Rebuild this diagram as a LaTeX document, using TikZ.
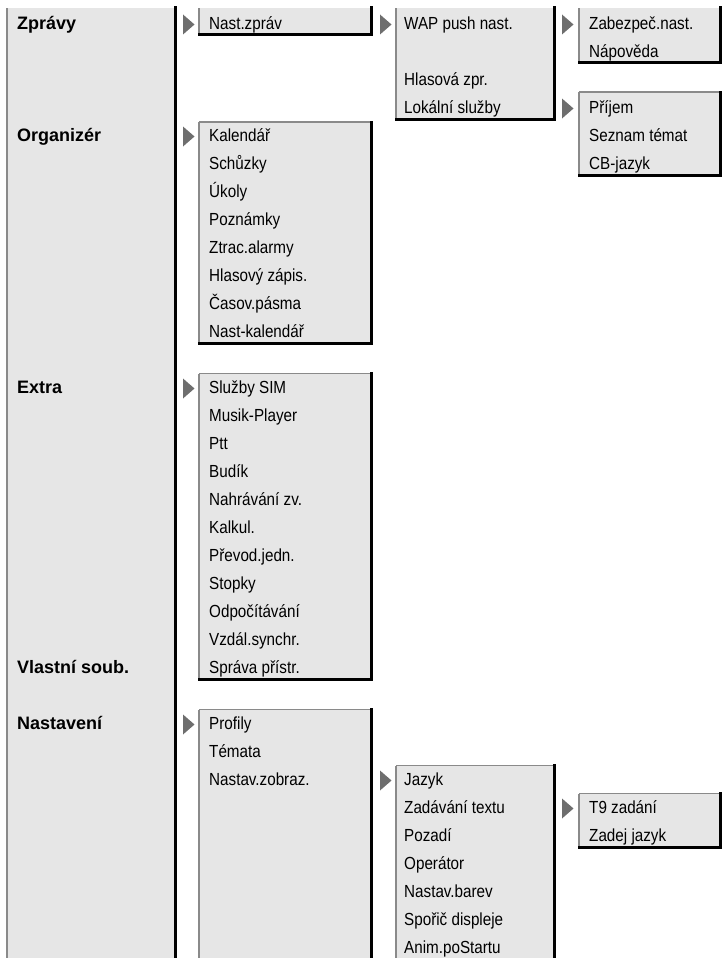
\documentclass[tikz,border=0pt]{standalone}
\usepackage{fontspec}
\newfontfamily\menufont[FakeStretch=0.87]{Liberation Sans}
\newfontfamily\headfont{Liberation Sans}
\definecolor{panelfill}{HTML}{E6E6E6}
\definecolor{edgegray}{HTML}{8A8A8A}
\definecolor{arrowgray}{HTML}{6E6E6E}
\tikzset{
  panelnode/.style={rectangle, fill=panelfill, draw=none, inner sep=0pt, outer sep=0pt, anchor=north west},
  lightedge/.style={draw=edgegray, line width=1.5pt},
  darkedge/.style={draw=black, line width=3pt, line join=miter, line cap=rect},
  item/.style={anchor=base west, inner sep=0pt, font=\menufont\fontsize{17.5}{20}\selectfont},
  head/.style={anchor=base west, inner sep=0pt, font=\headfont\bfseries\fontsize{18}{20}\selectfont},
  pointerfill/.style={fill=arrowgray, draw=none},
}
% panel: name, x1, y1, x2, y2
\newcommand\menupanel[5]{%
  \node[panelnode, minimum width={#4-#2}, minimum height={#5-#3}] (#1) at (#2,#3) {};
  \draw[lightedge] (#1.south west) -- (#1.north west);
}
\newcommand\closedbottom[1]{\draw[darkedge] (#1.south west) -- (#1.south east) -- (#1.north east);}
\newcommand\openbottom[1]{\draw[darkedge] (#1.south east) -- (#1.north east);}
\newcommand\topedge[1]{\draw[lightedge] (#1.north west) -- (#1.north east);}
% items: prefix, x, first row, list
\newcommand\menuitems[4]{%
  \foreach \t [count=\i from 0] in {#4} {
    \pgfmathsetmacro\bl{29.5+28*(#3+\i)}
    \node[item] (#1-\i) at (#2,\bl) {\t};
  }
}
% pointer: x, row
\newcommand\pointer[2]{%
  \pgfmathsetmacro\bl{29.5+28*#2}
  \fill[pointerfill] (#1,\bl-15) -- (#1+11.5,\bl-5) -- (#1,\bl+5) -- cycle;
}
\begin{document}
\begin{tikzpicture}[x=1pt,y=-1pt]
\useasboundingbox (0,0) rectangle (722,958);

% column 0
\menupanel{main}{7}{8}{175.5}{958}
\openbottom{main}
\node[head] (hzpr) at (17,29.5) {Zprávy};
\node[head] (horg) at (17,141.5) {Organizér};
\node[head] (hext) at (17,393.5) {Extra};
\node[head] (hvls) at (17,673.5) {Vlastní soub.};
\node[head] (hnst) at (17,729.5) {Nastavení};

% column 1
\menupanel{nz}{199}{8}{371.5}{35}
\closedbottom{nz}
\menuitems{nz}{209}{0}{Nast.zpráv}
\pointer{183}{0}

\menupanel{org}{199}{122}{371.5}{343}
\topedge{org}\closedbottom{org}
\menuitems{org}{209}{4}{Kalendář,Schůzky,Úkoly,Poznámky,Ztrac.alarmy,Hlasový zápis.,Časov.pásma,Nast-kalendář}
\pointer{183}{4}

\menupanel{ext}{199}{373.5}{371.5}{679}
\topedge{ext}\closedbottom{ext}
\menuitems{ext}{209}{13}{Služby SIM,Musik-Player,Ptt,Budík,Nahrávání zv.,Kalkul.,Převod.jedn.,Stopky,Odpočítávání,Vzdál.synchr.,Správa přístr.}
\pointer{183}{13}

\menupanel{nst}{199}{709.5}{371.5}{958}
\topedge{nst}\openbottom{nst}
\menuitems{nst}{209}{25}{Profily,Témata,Nastav.zobraz.}
\pointer{183}{25}

% column 2
\menupanel{wap}{396}{8}{554.5}{119}
\closedbottom{wap}
\node[item] (wap-0) at (404,29.5) {WAP push nast.};
\node[item] (wap-2) at (404,85.5) {Hlasová zpr.};
\node[item] (wap-3) at (404,113.5) {Lokální služby};
\pointer{380}{0}

\menupanel{zob}{396}{765.5}{554.5}{958}
\topedge{zob}\openbottom{zob}
\menuitems{zob}{404}{27}{Jazyk,Zadávání textu,Pozadí,Operátor,Nastav.barev,Spořič displeje,Anim.poStartu}
\pointer{380}{27}

% column 3
\menupanel{wps}{579}{8}{720}{63}
\closedbottom{wps}
\menuitems{wps}{589}{0}{Zabezpeč.nast.,Nápověda}
\pointer{562}{0}

\menupanel{cb}{579}{92}{720}{175.5}
\topedge{cb}\closedbottom{cb}
\menuitems{cb}{589}{3}{Příjem,Seznam témat,CB-jazyk}
\pointer{562}{3}

\menupanel{t9}{579}{793.5}{720}{847}
\topedge{t9}\closedbottom{t9}
\menuitems{t9}{589}{28}{T9 zadání,Zadej jazyk}
\pointer{562}{28}
\end{tikzpicture}
\end{document}
